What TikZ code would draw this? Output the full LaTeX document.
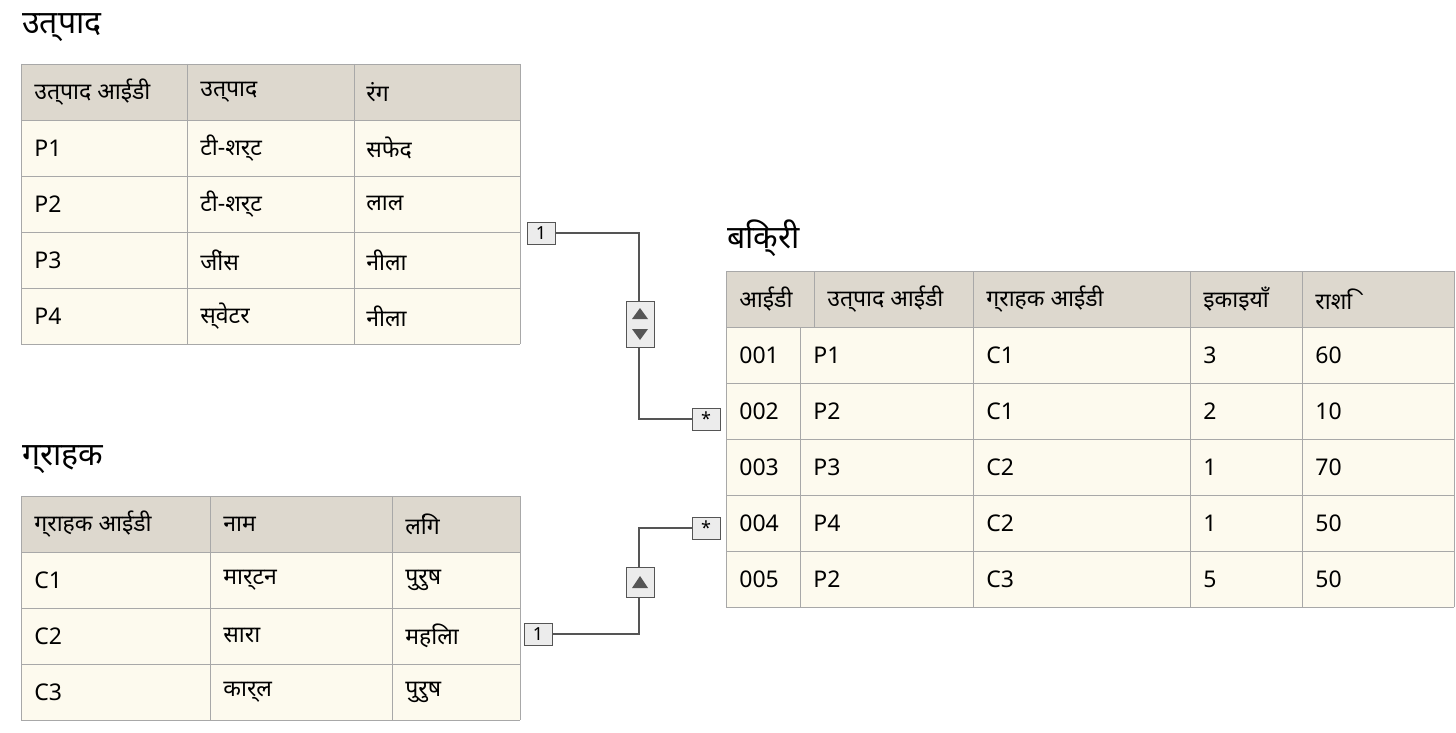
\documentclass[tikz,border=0pt]{standalone}
\usepackage{fontspec}
\setmainfont{Noto Sans}
\definecolor{hdr}{HTML}{DDD8CE}
\definecolor{bod}{HTML}{FDFAEE}
\definecolor{grid}{HTML}{A8A8A8}
\definecolor{lnk}{HTML}{555555}
\begin{document}
\begin{tikzpicture}[x=0.5pt,y=-0.5pt,
  cell/.style={anchor=west,inner sep=0pt,font=\fontsize{11.5}{13}\selectfont},
  hcell/.style={cell,font=\fontsize{11.5}{13}\selectfont\bfseries},
  title/.style={anchor=west,inner sep=0pt,font=\fontsize{16}{18}\selectfont},
  card/.style={draw=lnk,fill=gray!15,minimum width=14pt,minimum height=11pt,inner sep=0pt,font=\fontsize{9}{10}\selectfont},
  ctl/.style={draw=lnk,fill=gray!15,minimum width=14pt,inner sep=0pt},
  tri/.style={fill=lnk,draw=none},
  link/.style={draw=lnk,line width=1pt}]
\useasboundingbox (0,0) rectangle (1456,733);
\fill[white] (0,0) rectangle (1456,733);
% ---------- table 1
\node[title] (t1) at (22,28) {उत्पाद};
\fill[hdr] (21,64) rectangle (520,120);
\fill[bod] (21,120) rectangle (520,344);
\foreach \y in {64,120,176,232,288,344} \draw[grid] (21,\y) -- (520,\y);
\foreach \x in {21,187,354,520} \draw[grid] (\x,64) -- (\x,344);
\node[hcell] (a1) at (34,92) {उत्पाद आईडी};
\node[hcell] (a2) at (200,92) {उत्पाद};
\node[hcell] (a3) at (366,92) {रंग};
\foreach \i/\a/\b/\c in {1/P1/टी-शर्ट/सफेद,2/P2/टी-शर्ट/लाल,3/P3/जींस/नीला,4/P4/स्वेटर/नीला}{
  \node[cell] (p\i a) at (34,92+56*\i) {\a};
  \node[cell] (p\i b) at (200,92+56*\i) {\b};
  \node[cell] (p\i c) at (366,92+56*\i) {\c};}
% ---------- table 2
\node[title] (t2) at (22,460) {ग्राहक};
\fill[hdr] (21,496) rectangle (520,552);
\fill[bod] (21,552) rectangle (520,720);
\foreach \y in {496,552,608,664,720} \draw[grid] (21,\y) -- (520,\y);
\foreach \x in {21,210,392,520} \draw[grid] (\x,496) -- (\x,720);
\node[hcell] (b1) at (34,524) {ग्राहक आईडी};
\node[hcell] (b2) at (223,524) {नाम};
\node[hcell] (b3) at (405,524) {लिंग};
\foreach \i/\a/\b/\c in {1/C1/मार्टन/पुरुष,2/C2/सारा/महिला,3/C3/कार्ल/पुरुष}{
  \node[cell] (c\i a) at (34,524+56*\i) {\a};
  \node[cell] (c\i b) at (223,524+56*\i) {\b};
  \node[cell] (c\i c) at (405,524+56*\i) {\c};}
% ---------- table 3
\node[title] (t3) at (727,238) {बिक्री};
\fill[hdr] (726,271) rectangle (1454,327);
\fill[bod] (726,327) rectangle (1454,607);
\foreach \y in {271,327,383,439,495,551,607} \draw[grid] (726,\y) -- (1454,\y);
\foreach \x in {726,973,1190,1302,1454} \draw[grid] (\x,271) -- (\x,607);
\draw[grid] (814,271) -- (814,327);
\draw[grid] (800,327) -- (800,607);
\node[hcell] (s1) at (739,299) {आईडी};
\node[hcell] (s2) at (827,299) {उत्पाद आईडी};
\node[hcell] (s3) at (986,299) {ग्राहक आईडी};
\node[hcell] (s4) at (1203,299) {इकाइयाँ};
\node[hcell] (s5) at (1315,299) {राशि};
\foreach \i/\a/\b/\c/\d/\e in {1/001/P1/C1/3/60,2/002/P2/C1/2/10,3/003/P3/C2/1/70,4/004/P4/C2/1/50,5/005/P2/C3/5/50}{
  \node[cell] (r\i a) at (739,299+56*\i) {\a};
  \node[cell] (r\i b) at (813,299+56*\i) {\b};
  \node[cell] (r\i c) at (986,299+56*\i) {\c};
  \node[cell] (r\i d) at (1203,299+56*\i) {\d};
  \node[cell] (r\i e) at (1315,299+56*\i) {\e};}
% ---------- connectors
\node[card] (m1) at (541,233) {1};
\node[card] (m2) at (706,419) {*};
\node[card] (m3) at (538,634) {1};
\node[card] (m4) at (706,528) {*};
\coordinate (k1) at (639,233);
\coordinate (k2) at (639,419);
\coordinate (k3) at (639,634);
\coordinate (k4) at (639,528);
\draw[link] (m1) -- (k1) -- (k2) -- (m2);
\draw[link] (m3) -- (k3) -- (k4) -- (m4);
\node[ctl,minimum height=23pt] (g1) at (640,324) {};
\node[ctl,minimum height=15pt] (g2) at (640,582) {};
\fill[tri] (632,319) -- (648,319) -- (640,308) -- cycle;
\fill[tri] (632,329) -- (648,329) -- (640,340) -- cycle;
\fill[tri] (632,588) -- (648,588) -- (640,576) -- cycle;
\end{tikzpicture}
\end{document}
